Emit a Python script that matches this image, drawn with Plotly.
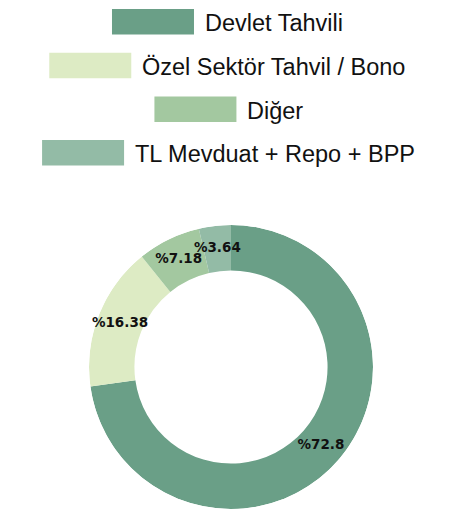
import plotly.graph_objects as go

labels = ["Devlet Tahvili", "Özel Sektör Tahvil / Bono", "Diğer", "TL Mevduat + Repo + BPP"]
values = [72.8, 16.38, 7.18, 3.64]
colors = ["#6a9f87", "#ddebc4", "#a3c8a0", "#93bba6"]

W, H = 453, 511
OFF = 8  # page body margin offset

# Arial / Liberation Sans advance widths (per em) for legend centering
CW = {' ': .278, '/': .278, '+': .584, 'D': .722, 'T': .611, 'Ö': .778, 'S': .667, 'B': .667,
      'L': .556, 'M': .833, 'R': .722, 'P': .667, 'e': .556, 'v': .5, 'l': .222, 't': .278,
      'a': .556, 'h': .556, 'i': .222, 'z': .5, 'k': .5, 'ö': .556, 'r': .333, 'o': .556,
      'n': .556, 'g': .556, 'ğ': .556, 'd': .556, 'u': .556, 'p': .556}

HOLE = 0.68
pcx, pcy, R = 231 - OFF, 367 - OFF, 142
dom = dict(x=[(pcx - R) / W, (pcx + R) / W], y=[1 - (pcy + R) / H, 1 - (pcy - R) / H])

total = sum(values)
mids, widths, acc = [], [], 0.0
for v in values:
    mids.append((acc + v / 2) / total * 360)
    widths.append(v / total * 360)
    acc += v

fig = go.Figure()
# donut ring drawn as polar bars
fig.add_trace(go.Barpolar(
    r=[1 - HOLE] * len(values), base=[HOLE] * len(values), theta=mids, width=widths,
    marker=dict(color=colors, line=dict(width=0)), opacity=1,
    customdata=labels, hovertemplate="%{customdata}: %{text}<extra></extra>",
    text=[str(v) for v in values], showlegend=False,
))
# value labels at the middle of each ring segment
fig.add_trace(go.Scatterpolar(
    r=[(1 + HOLE) / 2] * len(values), theta=mids, mode="text",
    text=["%" + str(v) for v in values],
    textfont=dict(family="DejaVu Sans", size=13.5, color="#111111", weight="bold"),
    showlegend=False, hoverinfo="skip",
))

font_size = 23.5
sw_w, sw_h, gap = 82, 25.5, 10
row_top0, row_step = 9 - OFF, 43.7
cx = 228.5 - OFF
shapes, annos = [], []
for i, (lab, col) in enumerate(zip(labels, colors)):
    tw = sum(CW.get(c, .556) for c in lab) * font_size
    left = cx - (sw_w + gap + tw) / 2
    top = row_top0 + i * row_step
    shapes.append(dict(type="rect", xref="paper", yref="paper",
                       x0=left / W, x1=(left + sw_w) / W,
                       y0=1 - (top + sw_h) / H, y1=1 - top / H,
                       fillcolor=col, line=dict(width=0)))
    annos.append(dict(xref="paper", yref="paper", x=(left + sw_w + gap) / W,
                      y=1 - (top + sw_h / 2 + 1.5) / H, xanchor="left", yanchor="middle",
                      text=lab, showarrow=False, borderpad=0,
                      font=dict(family="Liberation Sans", size=font_size, color="#111111")))

fig.update_layout(width=W, height=H, margin=dict(l=0, r=0, t=0, b=0),
                  paper_bgcolor="white", plot_bgcolor="white",
                  shapes=shapes, annotations=annos,
                  polar=dict(domain=dom, bgcolor="rgba(0,0,0,0)", barmode="overlay",
                             radialaxis=dict(range=[0, 1], visible=False, showgrid=False,
                                             showline=False, ticks=""),
                             angularaxis=dict(rotation=90, direction="clockwise",
                                              visible=False, showgrid=False,
                                              showline=False, ticks="")))
fig.write_html("out.html")
